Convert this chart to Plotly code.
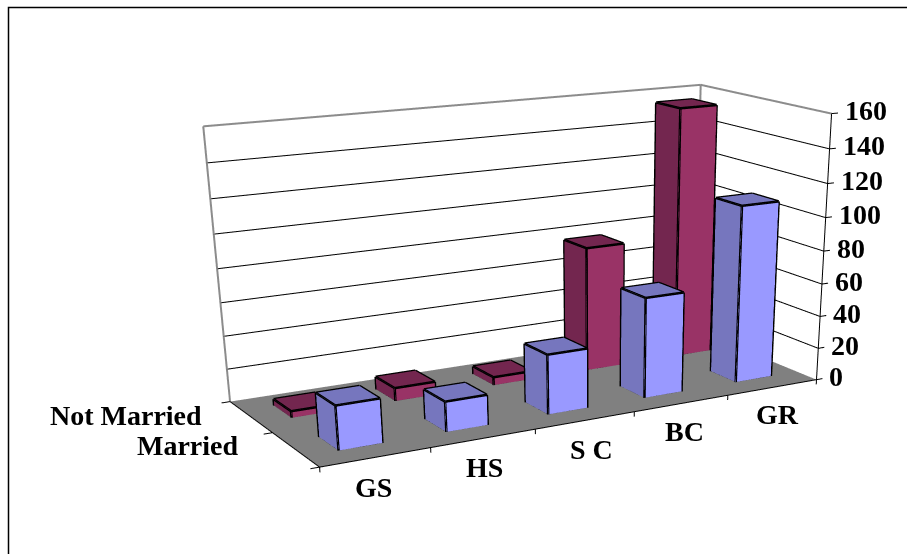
import numpy as np
import plotly.graph_objects as go

# Chart content
categories = ["GS", "HS", "S C", "BC", "GR"]
series_names = ["Married", "Not Married"]
married = [26, 18, 36, 61, 108]
not_married = [4, 8, 5, 77, 155]
value_ticks = [0, 20, 40, 60, 80, 100, 120, 140, 160]

# Styling
BAR_WIDTH = 0.40
FRONT = {"Married": "#9999FF", "Not Married": "#993366"}
SHADE = {"Married": "#7676BE", "Not Married": "#73264F"}
FLOOR = "#808080"
WALL_EDGE = "#8C8C8C"
FONT = dict(family="Liberation Serif", size=28, color="black", weight=700)

# Page and camera: a tall canvas gives the narrow field of view of the 3D column chart
PAGE_W, PAGE_H = 1200, 1500
BOX = np.array([1.0, 0.4207, 0.4763])
EYE = np.array([-1.5299, -2.8861, 0.7251])
LOOK = np.array([-1.3951, -2.6548, 0.5847])

n_cat, n_ser, v_max = len(categories), len(series_names), max(value_ticks)
span = np.array([n_cat, n_ser, v_max], float)
lo = np.array([-0.3, -0.3, -6.0])
hi = np.array([n_cat + 0.4, n_ser + 0.2, v_max + 4.0])
aspect = BOX * (hi - lo) / span
shift = BOX * ((hi + lo) / span - 1) / 2
eye, look = EYE - shift, LOOK - shift


def segments(pairs):
    xs, ys, zs = [], [], []
    for a, b in pairs:
        xs += [a[0], b[0], None]
        ys += [a[1], b[1], None]
        zs += [a[2], b[2], None]
    return xs, ys, zs


def line_trace(pairs, color, width):
    xs, ys, zs = segments(pairs)
    return go.Scatter3d(x=xs, y=ys, z=zs, mode="lines", hoverinfo="skip",
                        line=dict(color=color, width=width), showlegend=False)


def bar_traces(values, row, name):
    vx, vy, vz, ii, jj, kk, colors, edges = [], [], [], [], [], [], [], []
    # corner pairs for each face: low/high x and y, low/high z
    quads = [((0, 1, 5, 4), FRONT[name]), ((0, 3, 7, 4), SHADE[name]), ((4, 5, 6, 7), SHADE[name])]
    links = [(0, 1), (1, 2), (2, 3), (3, 0), (4, 5), (5, 6), (6, 7), (7, 4), (0, 4), (1, 5), (2, 6), (3, 7)]
    for c, v in enumerate(values):
        x0, x1 = c + 0.5 - BAR_WIDTH / 2, c + 0.5 + BAR_WIDTH / 2
        y0, y1 = row + 0.5 - BAR_WIDTH / 2, row + 0.5 + BAR_WIDTH / 2
        corners = [(x0, y0, 0), (x1, y0, 0), (x1, y1, 0), (x0, y1, 0),
                   (x0, y0, v), (x1, y0, v), (x1, y1, v), (x0, y1, v)]
        base = len(vx)
        vx += [p[0] for p in corners]
        vy += [p[1] for p in corners]
        vz += [p[2] for p in corners]
        for q, col in quads:
            for tri in ((q[0], q[1], q[2]), (q[0], q[2], q[3])):
                ii.append(base + tri[0]); jj.append(base + tri[1]); kk.append(base + tri[2])
                colors.append(col)
        edges += [(corners[a], corners[b]) for a, b in links]
    mesh = go.Mesh3d(x=vx, y=vy, z=vz, i=ii, j=jj, k=kk, facecolor=colors, flatshading=True,
                     hoverinfo="skip", showscale=False,
                     lighting=dict(ambient=1, diffuse=0, specular=0, fresnel=0, roughness=1))
    return [mesh, line_trace(edges, "black", 5)]


fig = go.Figure()

# Floor
fig.add_trace(go.Mesh3d(x=[0, n_cat, n_cat, 0], y=[0, 0, n_ser, n_ser], z=[0, 0, 0, 0],
                        i=[0, 0], j=[1, 2], k=[2, 3], facecolor=[FLOOR, FLOOR], flatshading=True,
                        hoverinfo="skip",
                        lighting=dict(ambient=1, diffuse=0, specular=0, fresnel=0, roughness=1)))

# Wall outlines, gridlines, axis lines and tick marks
T = v_max
fig.add_trace(line_trace([((0, n_ser, 0), (0, n_ser, T)), ((0, n_ser, T), (n_cat, n_ser, T)),
                          ((n_cat, n_ser, T), (n_cat, 0, T)), ((n_cat, n_ser, 0), (n_cat, n_ser, T))],
                         WALL_EDGE, 4))
grid = []
for v in value_ticks[1:-1]:
    grid += [((0, n_ser, v), (n_cat, n_ser, v)), ((n_cat, n_ser, v), (n_cat, 0, v))]
fig.add_trace(line_trace(grid, "black", 2))

axes = [((0, 0, 0), (n_cat, 0, 0)), ((0, 0, 0), (0, n_ser, 0)), ((n_cat, 0, 0), (n_cat, 0, T))]
axes += [((c, 0, 0), (c, 0, -3)) for c in range(n_cat + 1)]
axes += [((0, s, 0), (-0.08, s, 0)) for s in range(n_ser + 1)]
axes += [((n_cat, 0, v), (n_cat + 0.07, 0, v)) for v in value_ticks]
fig.add_trace(line_trace(axes, "black", 2))

# Columns, back row first
for row, (name, values) in sorted(enumerate(zip(series_names, [married, not_married])), reverse=True):
    for tr in bar_traces(values, row, name):
        fig.add_trace(tr)

# Axis labels
notes = []
for v in value_ticks:
    notes.append(dict(x=n_cat, y=0, z=v, text=str(v), showarrow=False, xanchor="left", yanchor="middle",
                      xshift=11, yshift=3, font=FONT))
cat_shift = [(-2, -30), (1, -29), (6, -29), (3, -28), (5, -27)]
for c, label in enumerate(categories):
    notes.append(dict(x=c + 0.5, y=0, z=0, text=label, showarrow=False, xanchor="center", yanchor="middle",
                      xshift=cat_shift[c][0], yshift=cat_shift[c][1], font=FONT))
ser_shift = [(-55, 4), (-47, 1)]
for s, label in enumerate(series_names):
    notes.append(dict(x=0, y=s + 0.5, z=0, text=label, showarrow=False, xanchor="right", yanchor="middle",
                      xshift=ser_shift[s][0], yshift=ser_shift[s][1], font=FONT))

hidden = dict(visible=False, showspikes=False)
fig.update_layout(
    width=PAGE_W, height=PAGE_H, autosize=False, margin=dict(l=0, r=0, t=0, b=0),
    paper_bgcolor="white", showlegend=False,
    scene=dict(
        domain=dict(x=[0, 1], y=[0, 1]),
        xaxis=dict(range=[lo[0], hi[0]], **hidden),
        yaxis=dict(range=[lo[1], hi[1]], **hidden),
        zaxis=dict(range=[lo[2], hi[2]], **hidden),
        aspectmode="manual",
        aspectratio=dict(x=aspect[0], y=aspect[1], z=aspect[2]),
        camera=dict(eye=dict(x=eye[0], y=eye[1], z=eye[2]),
                    center=dict(x=look[0], y=look[1], z=look[2]),
                    up=dict(x=0, y=0, z=1),
                    projection=dict(type="perspective")),
        annotations=notes,
    ),
    shapes=[dict(type="rect", xref="paper", yref="paper", x0=8.5 / PAGE_W, x1=1.2, y0=-0.2, y1=1 - 7.5 / PAGE_H,
                 line=dict(color="black", width=1.5))],
)

fig.write_html("out.html", config=dict(displayModeBar=False),
               post_script="document.documentElement.style.overflow='hidden';document.body.style.overflow='hidden';")
